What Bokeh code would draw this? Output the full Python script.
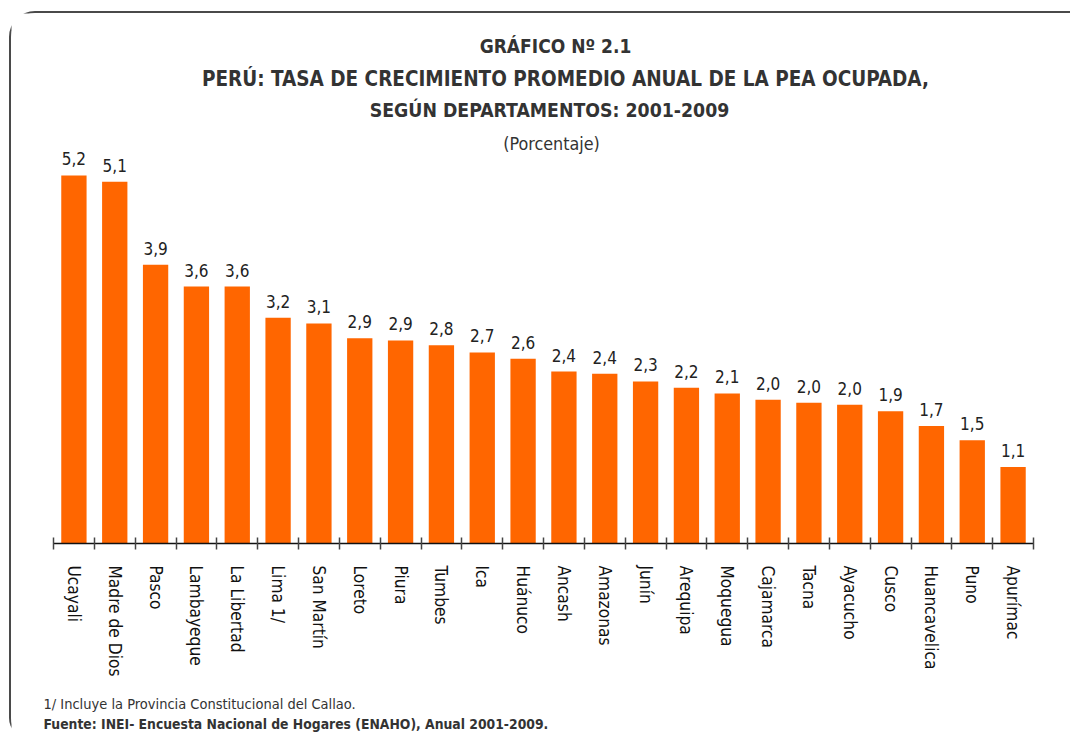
from bokeh.plotting import figure
from bokeh.models import (ColumnDataSource, Range1d, LinearAxis, FixedTicker, Label)
from bokeh.core.properties import value
from bokeh.embed import file_html
from bokeh.resources import INLINE

# ---- data ----
departamentos = ["Ucayali", "Madre de Dios", "Pasco", "Lambayeque", "La Libertad",
                 "Lima 1/", "San Martín", "Loreto", "Piura", "Tumbes", "Ica",
                 "Huánuco", "Ancash", "Amazonas", "Junín", "Arequipa", "Moquegua",
                 "Cajamarca", "Tacna", "Ayacucho", "Cusco", "Huancavelica", "Puno",
                 "Apurímac"]
tasa = [5.20, 5.11, 3.94, 3.63, 3.63, 3.19, 3.11, 2.90, 2.87, 2.80, 2.70, 2.61,
        2.43, 2.40, 2.29, 2.20, 2.12, 2.03, 1.99, 1.96, 1.87, 1.66, 1.46, 1.08]
etiquetas = [f"{v:.1f}".replace(".", ",") for v in tasa]

titulo = ["GRÁFICO Nº 2.1",
          "PERÚ: TASA DE CRECIMIENTO PROMEDIO ANUAL DE LA PEA OCUPADA,",
          "SEGÚN DEPARTAMENTOS: 2001-2009"]
subtitulo = "(Porcentaje)"
nota = "1/ Incluye la Provincia Constitucional del Callao."
fuente = "Fuente: INEI- Encuesta Nacional de Hogares (ENAHO), Anual 2001-2009."

NARROW = "DejaVu Sans Condensed"
ORANGE = "#FF6600"

n = len(departamentos)
centros = [i + 0.5 for i in range(n)]          # category slot centres
bordes = list(range(n + 1))                    # category slot edges
src = ColumnDataSource(dict(x=centros, dep=departamentos, tasa=tasa, lab=etiquetas))

# page offset of the figure content (CSS margin + border)
OX, OY = 11, 13
W, H = 1061, 727
SLOT = (1033 - 53) / n          # px per category slot in the reference
BASE = 543 - OY
PX_PER_UNIT = 70.77

p = figure(width=W, height=H, output_backend="svg", toolbar_location=None,
           x_range=Range1d((OX - 53) / SLOT, (OX + W - 53) / SLOT),
           y_range=Range1d(-(H - BASE) / PX_PER_UNIT, BASE / PX_PER_UNIT),
           min_border_left=0, min_border_right=0, min_border_top=0,
           min_border_bottom=0)
p.xaxis.visible = False
p.yaxis.visible = False
p.grid.visible = False
p.outline_line_color = None
p.background_fill_color = "white"
p.border_fill_color = "white"
p.styles = {"margin-left": "9px", "margin-top": "11px",
            "border-top": "2px solid #4a4a4a", "border-left": "2px solid #4a4a4a",
            "border-top-left-radius": "26px", "border-bottom-left-radius": "20px"}

p.vbar(x="x", top="tasa", width=0.62, source=src, color=ORANGE, line_color=None)
p.text(x="x", y="tasa", text="lab", source=src, y_offset=-10,
       text_align="center", text_baseline="bottom",
       text_font=value(NARROW), text_font_size="17px", text_color="#222222")

x_axis = LinearAxis(fixed_location=0, bounds=(0, n),
                    ticker=FixedTicker(ticks=centros, minor_ticks=bordes),
                    major_label_overrides={c: d for c, d in zip(centros, departamentos)},
                    axis_line_color="#111111", axis_line_width=1.5,
                    major_tick_line_color=None, major_tick_in=0, major_tick_out=0,
                    minor_tick_line_color="#444444", minor_tick_line_width=1.5,
                    minor_tick_in=6, minor_tick_out=6,
                    major_label_orientation="vertical",
                    major_label_standoff=16,
                    major_label_text_font=NARROW,
                    major_label_text_font_size="17.2px",
                    major_label_text_color="#111111")
p.add_layout(x_axis, "below")


def xd(refx):
    return (refx - 53) / SLOT


def yd(refy):
    return (543 - refy) / PX_PER_UNIT


title_y = [45, 78, 110]
title_x = [555, 565, 549]
title_size = ["19px", "20.5px", "19.3px"]
for t, tx, ty, ts in zip(titulo, title_x, title_y, title_size):
    p.add_layout(Label(x=xd(tx), y=yd(ty), text=t,
                       text_align="center", text_baseline="middle",
                       text_font=NARROW, text_font_style="bold",
                       text_font_size=ts, text_color="#333333"))
p.add_layout(Label(x=xd(551), y=yd(143), text=subtitulo,
                   text_align="center", text_baseline="middle",
                   text_font=NARROW, text_font_size="17.8px", text_color="#333333"))
p.add_layout(Label(x=xd(43), y=yd(703), text=nota,
                   text_align="left", text_baseline="middle",
                   text_font=NARROW, text_font_size="14.5px", text_color="#333333"))
p.add_layout(Label(x=xd(43), y=yd(723), text=fuente,
                   text_align="left", text_baseline="middle",
                   text_font=NARROW, text_font_style="bold",
                   text_font_size="13.8px", text_color="#333333"))

open("out.html", "w").write(file_html(p, INLINE))
